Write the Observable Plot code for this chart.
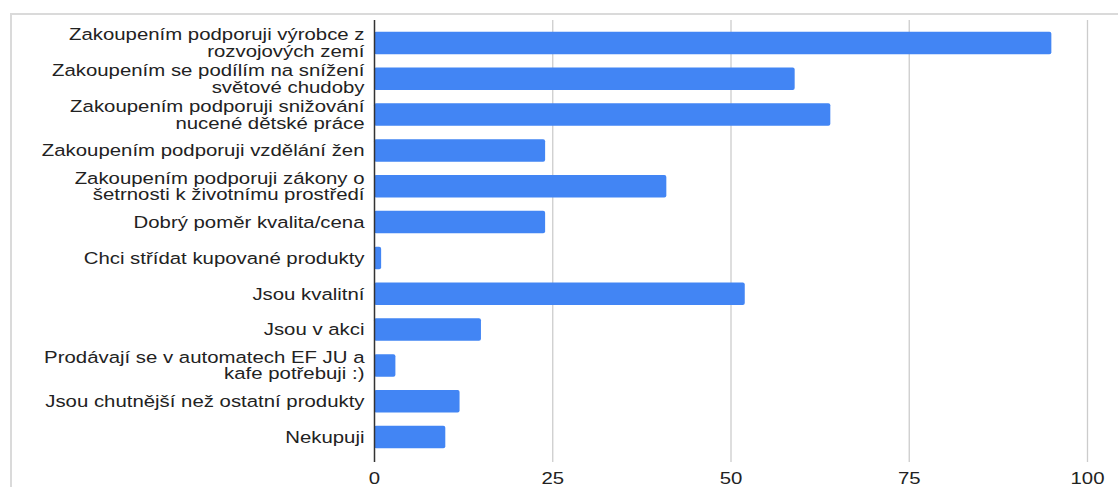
<!DOCTYPE html>
<html>
<head>
<meta charset="utf-8">
<script src="https://cdn.jsdelivr.net/npm/d3@7"></script>
<script src="https://cdn.jsdelivr.net/npm/@observablehq/plot@0.6"></script>
<style>
  html, body { margin: 0; padding: 0; background: #fff; overflow: hidden; width: 1118px; height: 487px; }
  #frame { position: absolute; left: 10px; top: 13px; width: 2000px; height: 2000px; border: 2px solid #dadada; box-sizing: border-box; }
  #chart { position: absolute; left: 0; top: 0; }
</style>
</head>
<body>
<div id="frame"></div>
<div id="chart"></div>
<script>
const categories = [
  "Zakoupením podporuji výrobce z\nrozvojových zemí",
  "Zakoupením se podílím na snížení\nsvětové chudoby",
  "Zakoupením podporuji snižování\nnucené dětské práce",
  "Zakoupením podporuji vzdělání žen",
  "Zakoupením podporuji zákony o\nšetrnosti k životnímu prostředí",
  "Dobrý poměr kvalita/cena",
  "Chci střídat kupované produkty",
  "Jsou kvalitní",
  "Jsou v akci",
  "Prodávají se v automatech EF JU a\nkafe potřebuji :)",
  "Jsou chutnější než ostatní produkty",
  "Nekupuji"
];
const values = [95, 59, 64, 24, 41, 24, 1, 52, 15, 3, 12, 10];
const xTicks = [0, 25, 50, 75, 100];

const data = categories.map((c, i) => ({category: c, value: values[i]}));

const chart = Plot.plot({
  width: 1118,
  height: 487,
  marginLeft: 374,
  marginRight: 31,
  marginTop: 25,
  marginBottom: 32,
  style: {fontFamily: "'Liberation Sans', Arial, sans-serif", fontSize: "16.5px", color: "#222", background: "transparent"},
  x: {domain: [0, 100], ticks: xTicks, axis: null},
  y: {domain: categories, paddingInner: 0.37, paddingOuter: 0.185, round: false, axis: null},
  marks: [
    Plot.ruleX(xTicks.filter(d => d > 0), {stroke: "#cccccc", strokeWidth: 1.3, insetTop: -5, insetBottom: -7}),
    Plot.barX(data, {x: "value", y: "category", fill: "#4285F4", rx: 2}),
    Plot.ruleX([0], {stroke: "#333", strokeWidth: 1.5, insetTop: -5, insetBottom: -7}),
    Plot.axisX({ticks: xTicks, tickSize: 0, tickPadding: 17, fill: "#222", label: null, ariaLabel: "xaxis"}),
    Plot.axisY({tickSize: 0, tickPadding: 10, fill: "#222", label: null, lineHeight: 1.0, ariaLabel: "yaxis"})
  ]
});

// the reference's text is rendered horizontally wider; stretch each label about its own anchor
chart.querySelectorAll('g[aria-label^="xaxis"] text, g[aria-label^="yaxis"] text').forEach(t => {
  const tr = t.getAttribute("transform") || "";
  t.setAttribute("transform", tr + " scale(1.235,1)");
});

document.getElementById("chart").appendChild(chart);
</script>
</body>
</html>
